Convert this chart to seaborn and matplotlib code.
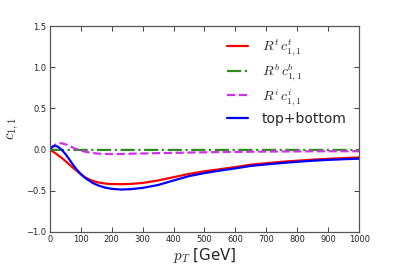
import numpy as np
import pandas as pd
import matplotlib
matplotlib.use("Agg")
import matplotlib.pyplot as plt
import seaborn as sns

pt = [0, 5, 10, 15, 20, 25, 30, 35, 40, 50, 60, 70, 80, 90, 100, 110, 120, 140, 160,
      180, 200, 230, 260, 300, 350, 400, 450, 500, 550, 600, 650, 700, 750, 800, 850,
      900, 950, 1000]
top = [0, -0.012, -0.025, -0.037, -0.05, -0.064, -0.078, -0.092, -0.106, -0.138, -0.172,
       -0.205, -0.237, -0.267, -0.298, -0.325, -0.35, -0.382, -0.402, -0.413, -0.418, -0.42,
       -0.417, -0.405, -0.375, -0.335, -0.295, -0.263, -0.238, -0.212, -0.183, -0.165,
       -0.148, -0.135, -0.122, -0.112, -0.103, -0.095]
bottom = [0, -0.001, -0.002, -0.002, -0.003, -0.003, -0.003, -0.004, -0.004, -0.004,
          -0.004, -0.004, -0.004, -0.004, -0.004, -0.004, -0.004, -0.004, -0.004, -0.004,
          -0.004, -0.004, -0.004, -0.004, -0.004, -0.004, -0.004, -0.004, -0.004, -0.004,
          -0.004, -0.004, -0.004, -0.004, -0.004, -0.004, -0.004, -0.004]
interf = [0, 0.02, 0.04, 0.055, 0.065, 0.072, 0.076, 0.077, 0.075, 0.065, 0.05, 0.032,
          0.015, 0.0, -0.012, -0.022, -0.03, -0.042, -0.05, -0.053, -0.054, -0.053, -0.05,
          -0.047, -0.043, -0.04, -0.036, -0.033, -0.03, -0.028, -0.026, -0.024, -0.023,
          -0.022, -0.021, -0.02, -0.02, -0.02]
total = [0, 0.025, 0.038, 0.044, 0.043, 0.036, 0.024, 0.008, -0.01, -0.052, -0.103,
         -0.158, -0.21, -0.257, -0.298, -0.332, -0.36, -0.408, -0.44, -0.463, -0.476,
         -0.485, -0.481, -0.465, -0.43, -0.375, -0.322, -0.285, -0.255, -0.228, -0.198,
         -0.18, -0.163, -0.148, -0.135, -0.125, -0.117, -0.11]

labels = [r"$R^t\,c^t_{1,1}$", r"$R^b\,c^b_{1,1}$", r"$R^i\,c^i_{1,1}$", "top+bottom"]
colors = ["#ff0000", "#2e8b1e", "#d030e8", "#0000ff"]
styles = ["-", "-.", "--", "-"]
series = [top, bottom, interf, total]

sns.set_style("ticks")
plt.rcParams["font.family"] = ["DejaVu Sans"]
plt.rcParams["mathtext.fontset"] = "cm"

fig = plt.figure(figsize=(3.99, 2.66), dpi=100)
ax = fig.add_axes([0.125, 0.128, 0.775, 0.774])

for lab, col, ls, vals in zip(labels, colors, styles, series):
    df = pd.DataFrame({"pt": pt, "c": vals})
    sns.lineplot(data=df, x="pt", y="c", ax=ax, color=col, linestyle=ls,
                 linewidth=1.6, label=lab)

ax.set_xlim(0, 1000)
ax.set_ylim(-1.0, 1.5)
ax.set_xticks(np.arange(0, 1001, 100))
ax.set_yticks(np.arange(-1.0, 1.51, 0.5))
ax.tick_params(direction="in", top=True, right=True, labelsize=6, length=3.5,
               width=0.6, pad=2.5, colors="#222222")
for s in ax.spines.values():
    s.set_linewidth(0.9)
    s.set_color("#555555")
ax.set_xlabel(r"$p_T$ [GeV]", fontsize=10.8, labelpad=1)
ax.set_ylabel(r"$c_{1,1}$", fontsize=10.8, labelpad=4)

leg = ax.legend(loc="upper right", bbox_to_anchor=(1.0, 1.005), frameon=False,
                fontsize=10, handlelength=1.5, handletextpad=1.0, labelspacing=0.3)

fig.savefig("out.png", dpi=100)
